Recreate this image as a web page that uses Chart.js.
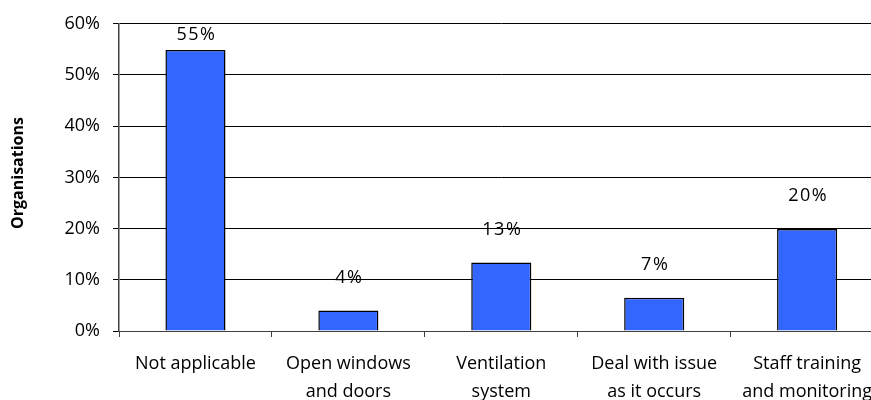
<!DOCTYPE html>
<html>
<head>
<meta charset="utf-8">
<script src="https://cdn.jsdelivr.net/npm/chart.js@4.4.1/dist/chart.umd.min.js"></script>
<style>
  html, body { margin: 0; padding: 0; background: #fff; overflow: hidden; }
  #wrap { position: relative; width: 884px; height: 400px; }
</style>
</head>
<body>
<div id="wrap"><canvas id="c"></canvas></div>
<script>
const categories = [
  ["Not applicable"],
  ["Open windows", "and doors"],
  ["Ventilation", "system"],
  ["Deal with issue", "as it occurs"],
  ["Staff training", "and monitoring"]
];
const values = [54.9, 4.0, 13.4, 6.5, 19.9];
const valueLabels = ["55%", "4%", "13%", "7%", "20%"];
const yTicks = [0, 10, 20, 30, 40, 50, 60];
const yTitle = "Organisations";

const FONT = "'Open Sans', 'DejaVu Sans', sans-serif";

const labelPlugin = {
  id: 'valueLabels',
  afterDatasetsDraw(chart) {
    const ctx = chart.ctx;
    const meta = chart.getDatasetMeta(0);
    ctx.save();
    ctx.font = "18px " + FONT;
    ctx.letterSpacing = "1.5px";
    ctx.fillStyle = "#000";
    ctx.textAlign = "center";
    ctx.textBaseline = "middle";
    meta.data.forEach((bar, i) => {
      let y = bar.y - 33;
      y = Math.max(y, chart.chartArea.top + 11);
      ctx.fillText(valueLabels[i], bar.x + 1, y);
    });
    ctx.restore();
  }
};

const titlePlugin = {
  id: 'yTitle',
  afterDraw(chart) {
    const ctx = chart.ctx;
    ctx.save();
    ctx.translate(18, 173);
    ctx.rotate(-Math.PI / 2);
    ctx.font = "bold 16px " + FONT;
    ctx.fillStyle = "#000";
    ctx.textAlign = "center";
    ctx.textBaseline = "middle";
    ctx.fillText(yTitle, 0, 0);
    ctx.restore();
  }
};

new Chart(document.getElementById('c'), {
  type: 'bar',
  data: {
    labels: categories,
    datasets: [{
      data: values,
      backgroundColor: '#3366FF',
      borderColor: '#000000',
      borderWidth: 1.5,
      borderSkipped: 'bottom',
      barPercentage: 0.6,
      categoryPercentage: 0.655
    }]
  },
  options: {
    responsive: true,
    maintainAspectRatio: false,
    animation: false,
    layout: { padding: { top: 21, right: 0, left: 0, bottom: 0 } },
    plugins: { legend: { display: false }, tooltip: { enabled: false } },
    scales: {
      x: {
        offset: true,
        grid: { display: true, drawOnChartArea: false, offset: true, tickLength: 6, color: '#404040', lineWidth: 1 },
        border: { display: true, color: '#404040', width: 1 },
        ticks: { color: '#000', font: { family: FONT, size: 18, lineHeight: 1.6 }, padding: 12, maxRotation: 0, autoSkip: false },
        afterFit(scale) { scale.height = 69; }
      },
      y: {
        min: 0, max: 60,
        afterBuildTicks(scale) { scale.ticks = yTicks.map(v => ({ value: v })); },
        grid: { color: '#000000', lineWidth: 1, tickLength: 6, drawTicks: true },
        border: { display: true, color: '#404040', width: 1.5 },
        ticks: { color: '#000', font: { family: FONT, size: 18 }, padding: 13, callback: v => v + '%' },
        afterFit(scale) { scale.width = 119; }
      }
    }
  },
  plugins: [labelPlugin, titlePlugin]
});
</script>
</body>
</html>
